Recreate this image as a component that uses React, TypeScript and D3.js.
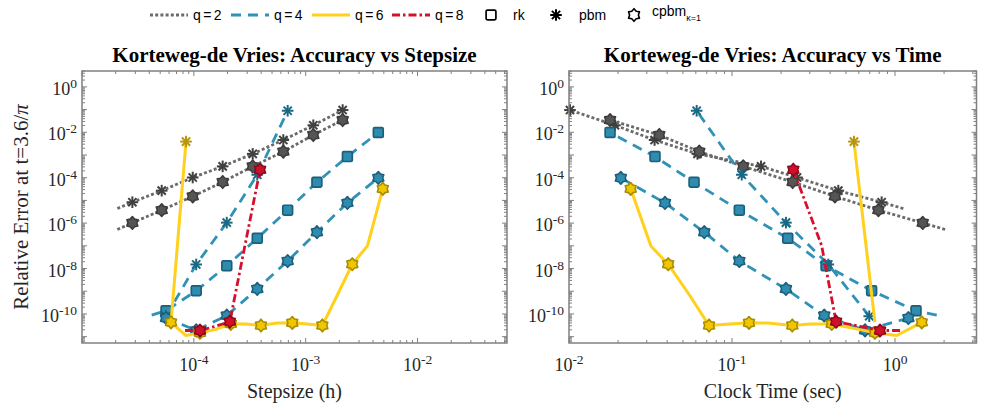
import React from 'react';
import * as d3 from 'd3';

// ---------- DATA ----------
// q = 2 (pbm & cpbm share step sizes)
const q2H = [2.07e-5, 2.82e-5, 5.16e-5, 9.77e-5, 1.81e-4, 3.36e-4, 6.31e-4, 1.17e-3, 2.14e-3];
const q2PbmErr = [4.37e-6, 8.32e-6, 2.69e-5, 1.02e-4, 3.16e-4, 1.12e-3, 4.57e-3, 2.04e-2, 9.55e-2];
const q2PbmTime = [1.125, 0.828, 0.449, 0.2506, 0.1507, 0.0614, 0.0335, 0.01914, 0.01014];
const q2CpbmErr = [5.25e-7, 1.02e-6, 3.72e-6, 1.51e-5, 6.46e-5, 3.16e-4, 1.41e-3, 7.59e-3, 3.47e-2];
const q2CpbmTime = [2.03, 1.479, 0.791, 0.428, 0.2355, 0.1172, 0.063, 0.0358, 0.01786];

// q = 4
const q4RkH = [4.2e-5, 5.64e-5, 1.05e-4, 1.97e-4, 3.69e-4, 6.9e-4, 1.26e-3, 2.36e-3, 4.46e-3];
const q4RkErr = [8.9e-11, 1.38e-10, 1.05e-9, 1.32e-8, 2.14e-7, 3.72e-6, 6.31e-5, 8.51e-4, 9.77e-3];
const q4RkTime = [1.803, 1.346, 0.719, 0.3776, 0.2198, 0.1109, 0.0585, 0.0337, 0.01786];
const q4PbmH = [5.64e-5, 1.05e-4, 1.97e-4, 3.69e-4, 6.9e-4];
const q4PbmErr = [7.94e-11, 1.51e-8, 1.05e-6, 1.35e-4, 8.91e-2];
const q4PbmTime = [0.695, 0.39, 0.2143, 0.1148, 0.0607];
const q4CpbmH = [5.64e-5, 1.05e-4, 1.97e-4, 3.69e-4, 6.9e-4, 1.26e-3, 2.36e-3, 4.46e-3];
const q4CpbmErr = [6.6e-11, 1.9e-11, 8.5e-11, 1.26e-9, 2.14e-8, 3.98e-7, 7.76e-6, 9.77e-5];
const q4CpbmTime = [1.208, 0.655, 0.368, 0.2143, 0.1109, 0.0676, 0.0388, 0.0208];

// q = 6
const q6PbmH = [6.25e-5, 8.51e-5];
const q6PbmErr = [4.3e-11, 3.9e-3];
const q6PbmTime = [0.753, 0.56];
const q6CpbmH = [6.25e-5, 8.51e-5, 1.135e-4, 1.545e-4, 2.14e-4, 2.92e-4, 3.98e-4, 5.55e-4, 7.59e-4, 1.028e-3, 1.41e-3, 1.905e-3, 2.61e-3, 3.56e-3, 4.89e-3];
const q6CpbmErr = [4.27e-11, 1.12e-11, 1.48e-11, 2.04e-11, 3.63e-11, 3.63e-11, 3.09e-11, 3.98e-11, 4.07e-11, 3.63e-11, 3.09e-11, 6.31e-10, 1.55e-8, 9.77e-8, 3.24e-5];
const q6CpbmTime = [1.459, 1.023, 0.753, 0.61, 0.409, 0.301, 0.2344, 0.1663, 0.1271, 0.0973, 0.0723, 0.0552, 0.0406, 0.0318, 0.0239];

// q = 8
const q8CpbmH = [8.34e-5, 1.135e-4, 1.545e-4, 2.1e-4, 2.86e-4, 3.91e-4];
const q8CpbmErr = [1.86e-11, 1.86e-11, 2.82e-11, 4.57e-11, 1.0e-7, 2.24e-4];
const q8CpbmTime = [1.074, 0.809, 0.61, 0.435, 0.355, 0.2377];

const yTickExps = [0, -2, -4, -6, -8, -10];
const xLeftTickExps = [-4, -3, -2];
const xRightTickExps = [-2, -1, 0];
const legendQ = ['q = 2', 'q = 4', 'q = 6', 'q = 8'];
const legendMethods = ['rk', 'pbm', 'cpbm'];

// ---------- STYLES ----------
const STY: Record<string, any> = {
  q2: { line: '#6b6b6b', dash: '3,2.2', width: 2.8, fill: '#555555', edge: '#3c3c3c', ast: '#404040' },
  q4: { line: '#2f92b6', dash: '10,7', width: 2.8, fill: '#2e8cb1', edge: '#1b5f7a', ast: '#1b6884' },
  q6: { line: '#ffd01c', dash: null, width: 3, fill: '#efc600', edge: '#a88c00', ast: '#b8960c' },
  q8: { line: '#d6102c', dash: '8,3,2.5,3', width: 2.8, fill: '#d20f2b', edge: '#8a0a1a', ast: '#8a0a1a' },
};

type Series = { q: string; m: string; h: number[]; e: number[]; t: number[]; mark: (i: number) => boolean };
const all = () => true;
const SERIES: Series[] = [
  { q: 'q2', m: 'pbm', h: q2H, e: q2PbmErr, t: q2PbmTime, mark: (i) => i > 0 },
  { q: 'q2', m: 'cpbm', h: q2H, e: q2CpbmErr, t: q2CpbmTime, mark: (i) => i > 0 },
  { q: 'q4', m: 'rk', h: q4RkH, e: q4RkErr, t: q4RkTime, mark: (i) => i > 0 },
  { q: 'q4', m: 'pbm', h: q4PbmH, e: q4PbmErr, t: q4PbmTime, mark: all },
  { q: 'q4', m: 'cpbm', h: q4CpbmH, e: q4CpbmErr, t: q4CpbmTime, mark: all },
  { q: 'q6', m: 'pbm', h: q6PbmH, e: q6PbmErr, t: q6PbmTime, mark: (i) => i === 1 },
  { q: 'q6', m: 'cpbm', h: q6CpbmH, e: q6CpbmErr, t: q6CpbmTime, mark: (i) => i % 2 === 0 },
  { q: 'q8', m: 'cpbm', h: q8CpbmH, e: q8CpbmErr, t: q8CpbmTime, mark: (i) => i % 2 === 1 },
];

const Y0 = 71, Y1 = 343;
const yScale = d3.scaleLog().domain([Math.pow(10, -11.28), Math.pow(10, 0.7)]).range([Y1, Y0]);
const xLeft = d3.scaleLog().domain([1e-5, Math.pow(10, -1.2)]).range([82, 507]);
const xRight = d3.scaleLog().domain([1e-2, Math.pow(10, 0.5)]).range([569, 976.5]);

const SERIF = '"Liberation Serif", "Times New Roman", serif';
const SANS = '"Liberation Sans", Arial, sans-serif';

function hexPath(R: number) {
  const r = R * 0.7;
  const pts: string[] = [];
  for (let i = 0; i < 12; i++) {
    const a = (Math.PI / 6) * i - Math.PI / 2;
    const rad = i % 2 === 0 ? R : r;
    pts.push(`${(rad * Math.cos(a)).toFixed(2)},${(rad * Math.sin(a)).toFixed(2)}`);
  }
  return 'M' + pts.join('L') + 'Z';
}
const HEX = hexPath(6.3);

function Marker({ type, x, y, fill, edge, ast }: any) {
  if (type === 'rk') {
    return <rect x={x - 4.9} y={y - 4.9} width={9.8} height={9.8} rx={1.3} fill={fill} stroke={edge} strokeWidth={1.7} />;
  }
  if (type === 'pbm') {
    const r = 5.8;
    const segs = [0, 45, 90, 135].map((deg) => {
      const a = (deg * Math.PI) / 180;
      return (
        <line key={deg} x1={x - r * Math.cos(a)} y1={y - r * Math.sin(a)} x2={x + r * Math.cos(a)} y2={y + r * Math.sin(a)}
          stroke={ast} strokeWidth={2} />
      );
    });
    return <g>{segs}</g>;
  }
  return <path d={HEX} transform={`translate(${x},${y})`} fill={fill} stroke={edge} strokeWidth={1.6} strokeLinejoin="round" />;
}

function Panel({ xs, useTime, title, xlabel, xTickExps }: any) {
  const [x0, x1] = xs.range();
  const ticks: any[] = [];
  const [dlo, dhi] = xs.domain();
  for (let k = Math.floor(Math.log10(dlo)); k <= Math.ceil(Math.log10(dhi)); k++) {
    for (let m = 1; m <= 9; m++) {
      const v = m * Math.pow(10, k);
      if (v < dlo * 0.999 || v > dhi * 1.001) continue;
      const px = xs(v);
      const len = m === 1 ? 5 : 3;
      ticks.push(<line key={`xb${k}${m}`} x1={px} x2={px} y1={Y1} y2={Y1 - len} stroke="#808080" strokeWidth={1} />);
      ticks.push(<line key={`xt${k}${m}`} x1={px} x2={px} y1={Y0} y2={Y0 + len} stroke="#808080" strokeWidth={1} />);
    }
  }
  const [ylo, yhi] = yScale.domain();
  for (let k = -12; k <= 1; k++) {
    for (let m = 1; m <= 9; m++) {
      const v = m * Math.pow(10, k);
      if (v < ylo || v > yhi) continue;
      const py = yScale(v);
      const len = m === 1 ? 5 : 3;
      ticks.push(<line key={`yl${k}${m}`} x1={x0} x2={x0 + len} y1={py} y2={py} stroke="#808080" strokeWidth={1} />);
      ticks.push(<line key={`yr${k}${m}`} x1={x1} x2={x1 - len} y1={py} y2={py} stroke="#808080" strokeWidth={1} />);
    }
  }
  const cx = (x0 + x1) / 2;
  const line = d3.line<[number, number]>().x((d) => d[0]).y((d) => d[1]);
  return (
    <g>
      {ticks}
      {SERIES.map((s, si) => {
        const st = STY[s.q];
        const pts: [number, number][] = s.h.map((h, i) => [xs(useTime ? s.t[i] : h), yScale(s.e[i])]);
        return (
          <g key={si}>
            <path d={line(pts) || ''} fill="none" stroke={st.line} strokeWidth={st.width}
              strokeDasharray={st.dash || undefined} strokeLinejoin="round" />
            {pts.map((p, i) => s.mark(i) ? (
              <Marker key={i} type={s.m} x={p[0]} y={p[1]} fill={st.fill} edge={st.edge} ast={st.ast} />
            ) : null)}
          </g>
        );
      })}
      <rect x={x0} y={Y0} width={x1 - x0} height={Y1 - Y0} fill="none" stroke="#808080" strokeWidth={1.5} />
      {yTickExps.map((e: number) => (
        <text key={`yl${e}`} x={x0 - 5} y={yScale(Math.pow(10, e)) + 8} textAnchor="end" fontFamily={SERIF} fontSize={18} fill="#262626">
          10<tspan dy={-7} fontSize={13.5}>{e}</tspan>
        </text>
      ))}
      {xTickExps.map((e: number) => (
        <text key={`xl${e}`} x={xs(Math.pow(10, e))} y={371} textAnchor="middle" fontFamily={SERIF} fontSize={18} fill="#262626">
          10<tspan dy={-7} fontSize={13.5}>{e}</tspan>
        </text>
      ))}
      <text x={cx} y={62} textAnchor="middle" fontFamily={SERIF} fontWeight="bold" fontSize={21} fill="#000">{title}</text>
      <text x={cx} y={398} textAnchor="middle" fontFamily={SERIF} fontSize={20} fill="#262626">{xlabel}</text>
    </g>
  );
}

function Legend() {
  const qKeys = ['q2', 'q4', 'q6', 'q8'];
  const lx = [150, 231, 312, 392];
  const ly = 15;
  const mx = [491, 556, 634];
  const tx = [513, 579, 652];
  return (
    <g>
      {qKeys.map((q, i) => {
        const st = STY[q];
        return (
          <g key={q}>
            <line x1={lx[i]} x2={lx[i] + 38} y1={ly} y2={ly} stroke={st.line} strokeWidth={st.width} strokeDasharray={st.dash || undefined} />
            <text x={lx[i] + 43} y={ly + 5} fontFamily={SANS} fontSize={14} fill="#000" style={{ wordSpacing: '-1.5px' }}>{legendQ[i]}</text>
          </g>
        );
      })}
      {legendMethods.map((m, i) => (
        <g key={m}>
          <Marker type={m} x={mx[i]} y={ly} fill="none" edge="#000" ast="#000" />
          <text x={tx[i]} y={m === 'cpbm' ? ly + 1 : ly + 5} fontFamily={SANS} fontSize={14} fill="#000">
            {m}
            {m === 'cpbm' ? <tspan dy={5} fontSize={9}>κ=1</tspan> : null}
          </text>
        </g>
      ))}
    </g>
  );
}

export default function App() {
  return (
    <svg width={982} height={405} viewBox="0 0 982 405" style={{ position: 'absolute', left: 0, top: 0, background: '#fff' }}>
      <rect x={0} y={0} width={982} height={405} fill="#fff" />
      <Legend />
      <Panel xs={xLeft} useTime={false} title="Korteweg-de Vries: Accuracy vs Stepsize" xlabel="Stepsize (h)" xTickExps={xLeftTickExps} />
      <Panel xs={xRight} useTime={true} title="Korteweg-de Vries: Accuracy vs Time" xlabel="Clock Time (sec)" xTickExps={xRightTickExps} />
      <text transform={`translate(28,${(Y0 + Y1) / 2}) rotate(-90)`} textAnchor="middle" fontFamily={SERIF} fontSize={21} fill="#262626">
        Relative Error at t=3.6/<tspan fontStyle="italic">π</tspan>
      </text>
    </svg>
  );
}
